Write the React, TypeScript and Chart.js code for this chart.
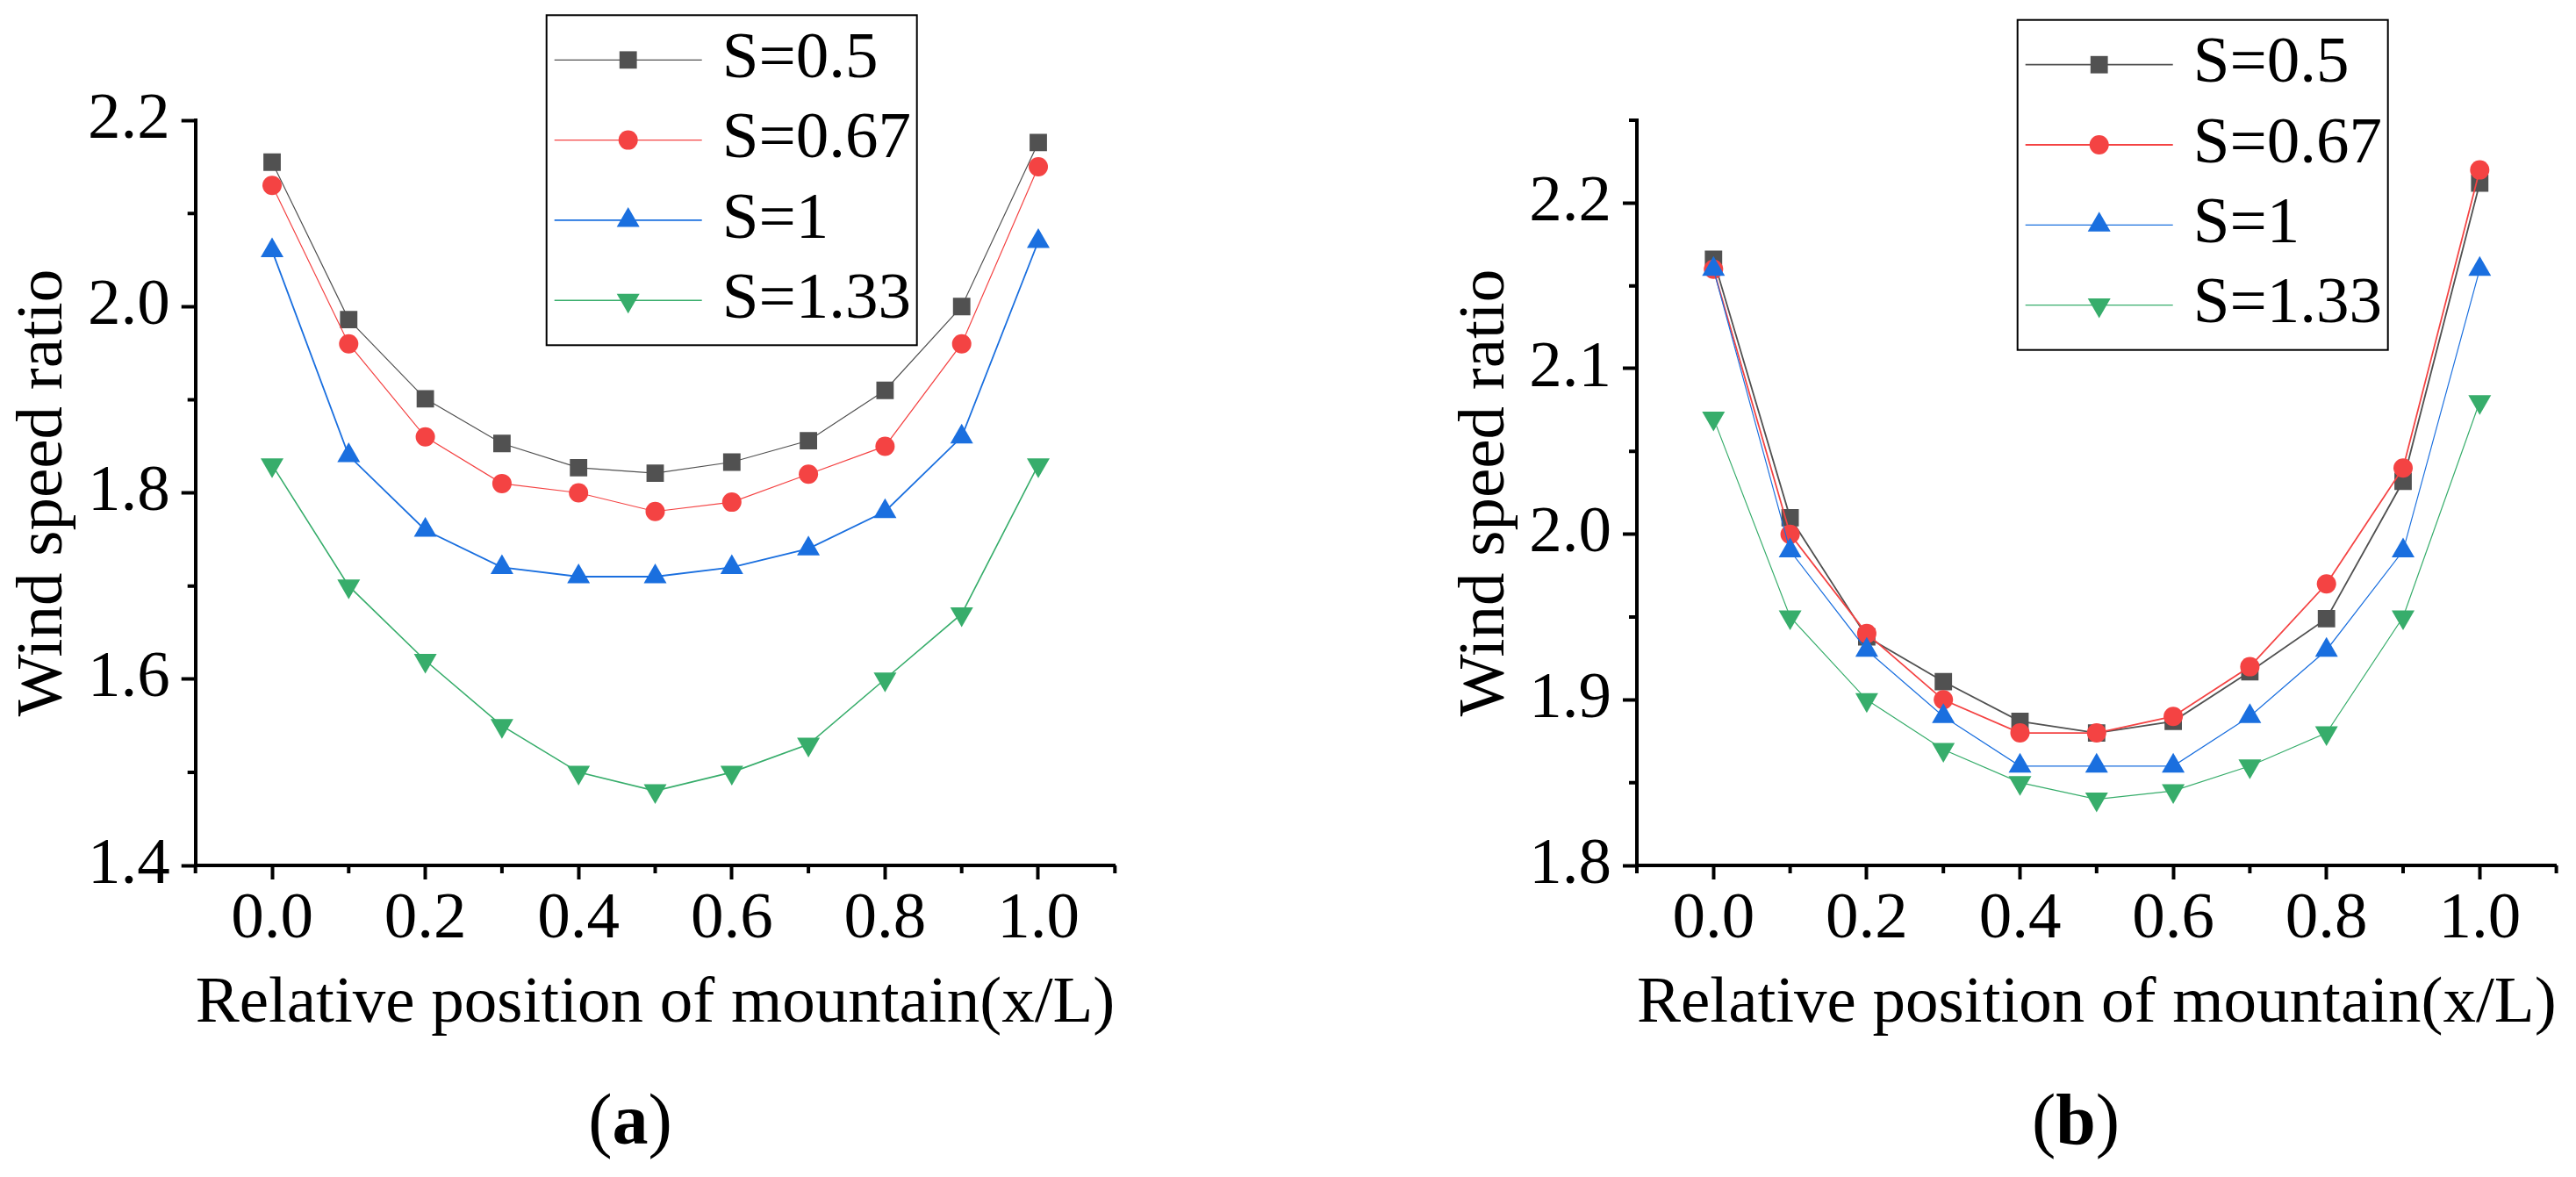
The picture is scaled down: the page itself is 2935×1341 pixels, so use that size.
"use client"

import { useEffect, useRef } from "react"
import { Chart, registerables } from "chart.js"
import { drawPoint } from "chart.js/helpers"

Chart.register(...registerables)

const FAMILY = "'Liberation Serif', 'Times New Roman', serif"

const positions = [0, 0.1, 0.2, 0.3, 0.4, 0.5, 0.6, 0.7, 0.8, 0.9, 1.0]
const seriesNames = ["S=0.5", "S=0.67", "S=1", "S=1.33"]

// panel (a)
const aS050 = [2.155, 1.986, 1.901, 1.853, 1.827, 1.821, 1.833, 1.856, 1.91, 2.0, 2.176]
const aS067 = [2.13, 1.96, 1.86, 1.81, 1.8, 1.78, 1.79, 1.82, 1.85, 1.96, 2.15]
const aS100 = [2.06, 1.84, 1.76, 1.72, 1.71, 1.71, 1.72, 1.74, 1.78, 1.86, 2.07]
const aS133 = [1.83, 1.7, 1.62, 1.55, 1.5, 1.48, 1.5, 1.53, 1.6, 1.67, 1.83]

// panel (b)
const bS050 = [2.166, 2.01, 1.938, 1.911, 1.887, 1.88, 1.887, 1.917, 1.949, 2.032, 2.212]
const bS067 = [2.16, 2.0, 1.94, 1.9, 1.88, 1.88, 1.89, 1.92, 1.97, 2.04, 2.22]
const bS100 = [2.16, 1.99, 1.93, 1.89, 1.86, 1.86, 1.86, 1.89, 1.93, 1.99, 2.16]
const bS133 = [2.07, 1.95, 1.9, 1.87, 1.85, 1.84, 1.845, 1.86, 1.88, 1.95, 2.08]

const xMajor = [0, 0.2, 0.4, 0.6, 0.8, 1.0]
const xMinor = [-0.1, 0.1, 0.3, 0.5, 0.7, 0.9, 1.1]
const aYMajor = [1.4, 1.6, 1.8, 2.0, 2.2]
const aYMinor = [1.5, 1.7, 1.9, 2.1]
const bYMajor = [1.8, 1.9, 2.0, 2.1, 2.2]
const bYMinor = [1.85, 1.95, 2.05, 2.15, 2.25]

const colors = ["#515151", "#F44343", "#1A6FDF", "#37AD6B"]
const markers = [
  { pointStyle: "rect", radius: 14, rotation: 0 },
  { pointStyle: "circle", radius: 11, rotation: 0 },
  { pointStyle: "triangle", radius: 15, rotation: 0 },
  { pointStyle: "triangle", radius: 15, rotation: 180 },
]

interface PanelProps {
  values: number[][]
  lineWidths: number[]
  yMin: number
  yMax: number
  yMajor: number[]
  yMinor: number[]
  letter: string
  left: number
  width: number
  padLeft: number
  padRight: number
  yWidth: number
  yTitlePad: number
  legendX: number
  legendY: number
  captionX: number
}

function Panel({
  values,
  lineWidths,
  yMin,
  yMax,
  yMajor,
  yMinor,
  letter,
  left,
  width,
  padLeft,
  padRight,
  yWidth,
  yTitlePad,
  legendX,
  legendY,
  captionX,
}: PanelProps) {
  const chartRef = useRef<HTMLCanvasElement>(null)
  const chartInstance = useRef<Chart | null>(null)

  useEffect(() => {
    if (!chartRef.current) return
    if (chartInstance.current) chartInstance.current.destroy()
    const ctx = chartRef.current.getContext("2d")
    if (!ctx) return

    // minor ticks, legend box and the (a)/(b) caption
    const decor = {
      id: "decor",
      afterDraw(chart: any) {
        const c = chart.ctx as CanvasRenderingContext2D
        const area = chart.chartArea
        const xs = chart.scales.x
        const ys = chart.scales.y
        c.save()

        c.strokeStyle = "#000"
        c.lineWidth = 4
        c.beginPath()
        xMinor.forEach((v) => {
          const px = xs.getPixelForValue(v)
          c.moveTo(px, area.bottom)
          c.lineTo(px, area.bottom + 9)
        })
        yMinor.forEach((v) => {
          const py = ys.getPixelForValue(v)
          c.moveTo(area.left, py)
          c.lineTo(area.left - 9, py)
        })
        c.stroke()

        c.lineWidth = 2
        c.strokeStyle = "#000"
        c.strokeRect(legendX, legendY, 422, 376)
        seriesNames.forEach((name, i) => {
          const y = legendY + 51 + i * 91.3
          c.beginPath()
          c.strokeStyle = colors[i]
          c.lineWidth = lineWidths[i]
          c.moveTo(legendX + 9, y)
          c.lineTo(legendX + 177, y)
          c.stroke()
          c.fillStyle = colors[i]
          drawPoint(c, { ...markers[i], borderWidth: 0 } as any, legendX + 93, y)
          c.fillStyle = "#000"
          c.font = `75px ${FAMILY}`
          c.textAlign = "left"
          c.textBaseline = "middle"
          c.fillText(name, legendX + 200, y)
        })

        const regular = `82px ${FAMILY}`
        const bold = `bold 82px ${FAMILY}`
        c.font = regular
        const wp = c.measureText("(").width
        const wq = c.measureText(")").width
        c.font = bold
        const wl = c.measureText(letter).width
        let x = captionX - (wp + wl + wq) / 2
        const base = 1303
        c.textBaseline = "alphabetic"
        c.fillStyle = "#000"
        c.font = regular
        c.fillText("(", x, base)
        x += wp
        c.font = bold
        c.fillText(letter, x, base)
        x += wl
        c.font = regular
        c.fillText(")", x, base)

        c.restore()
      },
    }

    chartInstance.current = new Chart(ctx, {
      type: "line",
      data: {
        datasets: values.map((v, i) => ({
          label: seriesNames[i],
          data: positions.map((x, j) => ({ x, y: v[j] })),
          borderColor: colors[i],
          backgroundColor: colors[i],
          borderWidth: lineWidths[i],
          pointStyle: markers[i].pointStyle as any,
          pointRadius: markers[i].radius,
          pointHoverRadius: markers[i].radius,
          pointRotation: markers[i].rotation,
          pointBorderWidth: 0,
          pointBackgroundColor: colors[i],
          tension: 0,
          order: 4 - i,
        })),
      },
      options: {
        responsive: false,
        animation: false,
        events: [],
        layout: {
          padding: { left: padLeft, right: padRight, top: 137, bottom: 155 },
        },
        plugins: {
          legend: { display: false },
          tooltip: { enabled: false },
        },
        scales: {
          x: {
            type: "linear",
            min: -0.1,
            max: 1.1,
            afterBuildTicks: (s: any) => {
              s.ticks = xMajor.map((value) => ({ value }))
            },
            afterFit: (s: any) => {
              s.height = 200
            },
            border: { display: true, color: "#000", width: 4 },
            grid: {
              drawOnChartArea: false,
              drawTicks: true,
              tickLength: 16,
              tickWidth: 4,
              tickColor: "#000",
            },
            ticks: {
              color: "#000",
              padding: 9,
              maxRotation: 0,
              autoSkip: false,
              font: { family: FAMILY, size: 75, lineHeight: 1 },
              callback: (v: any) => Number(v).toFixed(1),
            },
            title: {
              display: true,
              text: "Relative position of mountain(x/L)",
              color: "#000",
              font: { family: FAMILY, size: 75, lineHeight: 1 },
              padding: { top: 0, bottom: 4 },
            },
          },
          y: {
            type: "linear",
            min: yMin,
            max: yMax,
            afterBuildTicks: (s: any) => {
              s.ticks = yMajor.map((value) => ({ value }))
            },
            afterFit: (s: any) => {
              s.width = yWidth
            },
            border: { display: true, color: "#000", width: 4 },
            grid: {
              drawOnChartArea: false,
              drawTicks: true,
              tickLength: 16,
              tickWidth: 4,
              tickColor: "#000",
            },
            ticks: {
              color: "#000",
              padding: 13,
              autoSkip: false,
              font: { family: FAMILY, size: 75, lineHeight: 1 },
              callback: (v: any) => Number(v).toFixed(1),
            },
            title: {
              display: true,
              text: "Wind speed ratio",
              color: "#000",
              font: { family: FAMILY, size: 75, lineHeight: 1 },
              padding: { top: yTitlePad, bottom: 0 },
            },
          },
        },
      },
      plugins: [decor],
    })

    return () => {
      if (chartInstance.current) {
        chartInstance.current.destroy()
        chartInstance.current = null
      }
    }
  }, [values, lineWidths, yMin, yMax, yMajor, yMinor, letter, padLeft, padRight, yWidth, yTitlePad, legendX, legendY, captionX])

  return (
    <canvas
      ref={chartRef}
      width={width}
      height={1341}
      style={{ position: "absolute", left, top: 0, width, height: 1341 }}
    />
  )
}

const aValues = [aS050, aS067, aS100, aS133]
const bValues = [bS050, bS067, bS100, bS133]
const aWidths = [1.2, 1.2, 1.8, 1.6]
const bWidths = [1.8, 1.8, 1.2, 1.2]

export default function App() {
  return (
    <div
      style={{
        position: "absolute",
        left: 0,
        top: 0,
        width: 2935,
        height: 1341,
        background: "#fff",
        overflow: "hidden",
      }}
    >
      <Panel
        values={aValues}
        lineWidths={aWidths}
        yMin={1.4}
        yMax={2.2}
        yMajor={aYMajor}
        yMinor={aYMinor}
        letter="a"
        left={0}
        width={1460}
        padLeft={0}
        padRight={189.7}
        yWidth={222.7}
        yTitlePad={12.5}
        legendX={622.7}
        legendY={17.3}
        captionX={718}
      />
      <Panel
        values={bValues}
        lineWidths={bWidths}
        yMin={1.8}
        yMax={2.25}
        yMajor={bYMajor}
        yMinor={bYMinor}
        letter="b"
        left={1460}
        width={1475}
        padLeft={175}
        padRight={22.4}
        yWidth={230}
        yTitlePad={20.5}
        legendX={838.7}
        legendY={22.7}
        captionX={905}
      />
    </div>
  )
}
